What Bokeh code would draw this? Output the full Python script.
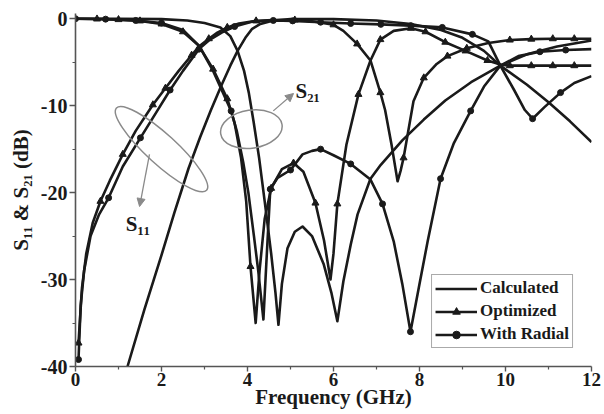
import numpy as np
from bokeh.plotting import figure
from bokeh.models import Range1d, Label, Arrow, NormalHead, Legend, LegendItem, FixedTicker
from bokeh.embed import file_html
from bokeh.resources import INLINE

# ---------------- data ----------------
# Calculated (plain line)
calc_s21_f = [0.0, 1.0, 2.0, 2.6, 3.0, 3.37, 3.6, 3.77, 3.92, 4.03, 4.14, 4.27, 4.4, 4.55, 4.65, 4.72,
              4.8, 4.93, 5.1, 5.28, 5.5, 5.77, 5.95, 6.09, 6.23, 6.4, 6.56, 6.86, 7.1, 7.6, 8.1, 8.6,
              9.2, 9.88, 10.5, 11.2, 12.0]
calc_s21_db = [0.0, 0.0, -0.05, -0.2, -0.5, -1.0, -2.0, -3.7, -6.0, -8.5, -11.8, -16.0, -21.0, -27.0, -31.5, -35.2,
               -30.5, -26.4, -24.5, -23.9, -25.0, -28.2, -31.5, -34.8, -30.2, -26.0, -22.5, -18.4, -16.8, -14.0, -11.6, -9.4,
               -7.3, -5.4, -4.1, -3.2, -2.5]
calc_s11_f = [1.21, 1.6, 2.0, 2.3, 2.63, 2.9, 3.15, 3.4, 3.6, 3.77, 3.95, 4.1, 4.3, 4.6, 5.0, 6.0, 7.0,
              7.8, 8.5, 9.0, 9.5, 9.88, 10.5, 11.0, 11.5, 12.0]
calc_s11_db = [-40.0, -33.5, -27.2, -22.3, -17.2, -13.6, -10.5, -7.6, -5.4, -3.7, -2.2, -1.2, -0.6, -0.2, -0.05, -0.05, -0.2,
               -0.6, -1.3, -2.2, -3.7, -5.4, -7.6, -9.6, -11.8, -14.2]

# Optimized (triangles)
opt_s21_f = [0.0, 0.5, 1.0, 1.5, 2.0, 2.5, 2.87, 3.2, 3.53, 3.7, 3.85, 3.97, 4.07, 4.19, 4.28, 4.4, 4.55,
             4.8, 5.07, 5.3, 5.58, 5.78, 5.93, 6.0, 6.09, 6.3, 6.58, 6.86, 7.09, 7.4, 7.8, 8.14, 8.6,
             9.07, 9.58, 9.9, 10.1, 10.6, 11.1, 11.6, 12.0]
opt_s21_db = [0.0, -0.03, -0.1, -0.25, -0.6, -1.5, -3.1, -5.8, -9.2, -12.0, -16.0, -21.0, -28.5, -35.0, -29.0, -23.0, -19.5,
              -17.3, -16.6, -17.6, -21.2, -25.5, -30.0, -27.0, -21.3, -14.5, -8.7, -4.8, -2.4, -1.4, -1.1, -1.5, -2.7,
              -3.7, -4.8, -5.3, -5.4, -5.4, -5.4, -5.4, -5.4]
opt_s21_marks = [1, 2, 3, 4, 5, 7, 8, 12, 16, 18, 20, 24, 26, 28, 30, 31, 32, 33, 34, 36, 37, 38, 39]

opt_s11_f = [0.07, 0.15, 0.25, 0.4, 0.58, 0.8, 1.1, 1.4, 1.8, 2.09, 2.4, 2.7, 2.87, 3.1, 3.3, 3.53, 3.8,
             4.2, 4.6, 5.1, 5.5, 6.0, 6.23, 6.55, 6.86, 7.09, 7.2, 7.35, 7.49, 7.56, 7.63, 7.86, 8.1,
             8.4, 8.65, 9.1, 9.6, 10.1, 10.6, 11.1, 11.6, 12.0]
opt_s11_db = [-37.3, -31.0, -27.0, -23.5, -21.0, -18.6, -15.6, -12.9, -9.9, -8.0, -6.0, -4.2, -3.2, -2.3, -1.6, -1.0, -0.55,
              -0.25, -0.15, -0.15, -0.3, -0.7, -1.4, -2.9, -4.8, -8.5, -10.5, -14.5, -18.7, -17.5, -16.0, -9.5, -6.8,
              -5.2, -4.3, -3.4, -2.8, -2.45, -2.35, -2.3, -2.3, -2.3]
opt_s11_marks = [0, 4, 6, 8, 9, 11, 13, 15, 17, 19, 21, 23, 25, 30, 32, 34, 35, 37, 38, 39, 40]

# With Radial (circles)
rad_s21_f = [0.0, 0.7, 1.4, 2.0, 2.5, 2.87, 3.2, 3.62, 3.75, 3.9, 4.02, 4.15, 4.25, 4.37, 4.45, 4.53, 4.7,
             5.0, 5.28, 5.5, 5.7, 6.0, 6.4, 6.86, 7.14, 7.4, 7.6, 7.79, 8.0, 8.19, 8.49, 8.8, 9.19,
             9.5, 9.88, 10.3, 10.8, 11.4, 12.0]
rad_s21_db = [0.0, -0.05, -0.2, -0.5, -1.3, -3.1, -6.0, -10.6, -12.9, -16.5, -20.0, -25.0, -29.0, -34.6, -27.0, -19.6, -18.3,
              -17.4, -15.6, -15.2, -15.0, -15.7, -16.7, -18.5, -21.3, -25.6, -30.5, -36.0, -30.5, -25.6, -18.4, -14.3, -10.6,
              -7.8, -5.4, -4.3, -3.8, -3.6, -3.5]
rad_s21_marks = [0, 1, 2, 3, 7, 15, 17, 20, 22, 24, 27, 30, 32, 36, 37]

rad_s11_f = [0.07, 0.12, 0.2, 0.35, 0.55, 0.77, 1.1, 1.51, 1.9, 2.2, 2.5, 2.87, 3.1, 3.4, 3.7, 4.1, 4.6,
             5.05, 5.7, 6.4, 7.1, 7.8, 8.53, 9.23, 9.6, 9.88, 10.2, 10.45, 10.63, 10.9, 11.28, 11.6, 12.0]
rad_s11_db = [-39.2, -33.0, -29.0, -25.0, -22.5, -20.6, -17.0, -13.7, -10.6, -8.2, -6.0, -3.5, -2.5, -1.6, -0.9, -0.35, -0.2,
              -0.25, -0.4, -0.55, -0.65, -0.8, -1.0, -1.8, -2.6, -5.4, -8.2, -10.5, -11.5, -10.2, -8.5, -7.4, -6.6]
rad_s11_marks = [0, 5, 7, 9, 11, 14, 16, 17, 18, 19, 20, 21, 22, 23, 28, 30]

x_ticks = [0, 2, 4, 6, 8, 10, 12]
y_ticks = [-40, -30, -20, -10, 0]

FONT = "Liberation Serif"
INK = "#1a1a1a"
GREY = "#8a8a8a"

p = figure(width=604, height=414, output_backend="svg", toolbar_location=None,
           x_range=Range1d(0, 12), y_range=Range1d(-40, 0.6),
           min_border_left=75, min_border_right=13, min_border_top=13, min_border_bottom=48)
p.background_fill_color = "white"
p.border_fill_color = "white"
p.outline_line_color = None
p.grid.visible = False

for ax, ticks in ((p.xaxis, x_ticks), (p.yaxis, y_ticks)):
    ax.ticker = FixedTicker(ticks=ticks, minor_ticks=[t + (ticks[1] - ticks[0]) / 2 for t in ticks[:-1]])
    ax.major_label_overrides = {t: str(t) for t in ticks}
    ax.axis_line_color = "#555555"
    ax.axis_line_width = 1.6
    ax.major_tick_line_color = "#555555"
    ax.minor_tick_line_color = "#555555"
    ax.major_tick_line_width = 1.4
    ax.minor_tick_line_width = 1.2
    ax.major_tick_in = 0
    ax.minor_tick_out = 3
    ax.minor_tick_in = 0
    ax.major_label_text_font = FONT
    ax.major_label_text_font_style = "bold"
    ax.major_label_text_color = INK
    ax.axis_label_text_font = FONT
    ax.axis_label_text_font_style = "bold"
    ax.axis_label_text_font_size = "21px"
    ax.axis_label_text_color = INK

p.xaxis.major_tick_out = 5
p.yaxis.major_tick_out = 6
p.xaxis.major_label_text_font_size = "19px"
p.yaxis.major_label_text_font_size = "20px"
p.xaxis.major_label_standoff = 1
p.yaxis.major_label_standoff = 2
p.xaxis.axis_label = "Frequency (GHz)"
p.xaxis.axis_label_standoff = -4
p.yaxis.axis_label = "S₁₁ & S₂₁ (dB)"
p.yaxis.axis_label_standoff = 5

def curve(f, db, lw=2.6):
    return p.line(f, db, line_color=INK, line_width=lw, line_join="round")

calc21 = curve(calc_s21_f, calc_s21_db)
calc11 = curve(calc_s11_f, calc_s11_db)
opt21 = curve(opt_s21_f, opt_s21_db)
opt11 = curve(opt_s11_f, opt_s11_db)
rad21 = curve(rad_s21_f, rad_s21_db)
rad11 = curve(rad_s11_f, rad_s11_db)

def marks(f, db, idx, marker, size):
    fx = [f[i] for i in idx]
    fy = [db[i] for i in idx]
    return p.scatter(fx, fy, marker=marker, size=size, fill_color=INK, line_color=INK)

opt21m = marks(opt_s21_f, opt_s21_db, opt_s21_marks, "triangle", 7)
opt11m = marks(opt_s11_f, opt_s11_db, opt_s11_marks, "triangle", 7)
rad21m = marks(rad_s21_f, rad_s21_db, rad_s21_marks, "circle", 6)
rad11m = marks(rad_s11_f, rad_s11_db, rad_s11_marks, "circle", 6)

# annotation ellipses and arrows
p.ellipse(x=[2.0], y=[-15.0], width=122, height=30, angle=-0.74,
          width_units="screen", height_units="screen",
          fill_color=None, line_color=GREY, line_width=1.5)
p.ellipse(x=[4.09], y=[-12.7], width=62, height=38, angle=0.15,
          width_units="screen", height_units="screen",
          fill_color=None, line_color=GREY, line_width=1.5)
p.add_layout(Arrow(end=NormalHead(size=8, fill_color=GREY, line_color=GREY),
                   x_start=1.72, y_start=-15.6, x_end=1.49, y_end=-21.6,
                   line_color=GREY, line_width=1.3))
p.add_layout(Arrow(end=NormalHead(size=8, fill_color=GREY, line_color=GREY),
                   x_start=4.6, y_start=-10.6, x_end=5.07, y_end=-8.6,
                   line_color=GREY, line_width=1.3))

def text(x, y, s, size):
    p.add_layout(Label(x=x, y=y, text=s, text_font=FONT, text_font_style="bold",
                       text_font_size=size, text_color=INK,
                       text_align="center", text_baseline="middle"))

text(5.4, -8.3, "S₂₁", "21px")
text(1.45, -23.6, "S₁₁", "21px")

legend = Legend(items=[
    LegendItem(label="Calculated", renderers=[calc21]),
    LegendItem(label="Optimized", renderers=[opt21, opt21m]),
    LegendItem(label="With Radial", renderers=[rad21, rad21m]),
], location="bottom_right")
legend.margin = 18
legend.padding = 3
legend.spacing = 3
legend.glyph_width = 42
legend.glyph_height = 19
legend.label_height = 19
legend.label_standoff = 3
legend.label_text_font = FONT
legend.label_text_font_style = "bold"
legend.label_text_font_size = "17px"
legend.label_text_color = INK
legend.border_line_color = "#555555"
legend.border_line_width = 1.2
legend.background_fill_color = "white"
legend.background_fill_alpha = 1.0
p.add_layout(legend, "center")

open("out.html", "w").write(file_html(p, INLINE))
